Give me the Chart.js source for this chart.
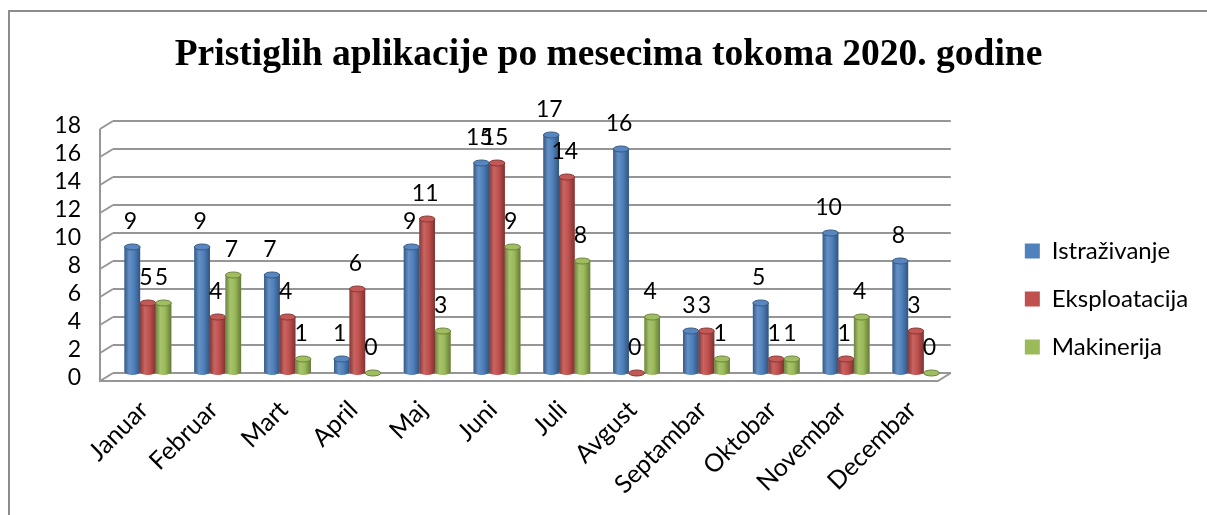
<!DOCTYPE html>
<html>
<head>
<meta charset="utf-8">
<script src="https://cdn.jsdelivr.net/npm/chart.js@4.4.0/dist/chart.umd.min.js"></script>
<style>
  html, body { margin: 0; padding: 0; background: #fff; overflow: hidden; }
  #wrap { position: relative; width: 1207px; height: 515px; overflow: hidden; }
  #frame { position: absolute; left: 8px; top: 10px; width: 1400px; height: 700px; border: 2px solid #8c8c8c; }
  #myChart { position: absolute; left: 0; top: 0; }
</style>
</head>
<body>
<div id="wrap">
  <div id="frame"></div>
  <canvas id="myChart" width="1207" height="515"></canvas>
</div>
<script>
// data
const months = ['Januar', 'Februar', 'Mart', 'April', 'Maj', 'Juni', 'Juli', 'Avgust', 'Septambar', 'Oktobar', 'Novembar', 'Decembar'];
const istrazivanje = [9, 9, 7, 1, 9, 15, 17, 16, 3, 5, 10, 8];
const eksploatacija = [5, 4, 4, 6, 11, 15, 14, 0, 3, 1, 1, 3];
const makinerija = [5, 7, 1, 0, 3, 9, 8, 4, 1, 1, 4, 0];
const seriesNames = ['Istraživanje', 'Eksploatacija', 'Makinerija'];
const yMax = 18;
const yStep = 2;

const barColors = ['#4F81BD', '#C0504D', '#9BBB59'];
const font = 'Lato';

function shade(hex, f) {
  const n = parseInt(hex.slice(1), 16);
  let rgb = [(n >> 16) & 255, (n >> 8) & 255, n & 255];
  rgb = rgb.map(c => f < 0 ? Math.round(c * (1 + f)) : Math.round(c + (255 - c) * f));
  return 'rgb(' + rgb.join(',') + ')';
}

// fake 3d wall / floor edges
const floor3d = {
  id: 'floor3d',
  beforeDatasetsDraw(chart) {
    const {ctx, chartArea: a, scales: {y}} = chart;
    const dx = -13, dy = 8;
    ctx.save();
    ctx.strokeStyle = '#969696';
    ctx.lineWidth = 2;
    y.ticks.forEach(t => {
      const py = y.getPixelForValue(t.value);
      ctx.beginPath();
      ctx.moveTo(a.left, py);
      ctx.lineTo(a.left + dx, py + dy);
      ctx.stroke();
    });
    ctx.beginPath();
    ctx.moveTo(a.left + dx, a.top + dy);
    ctx.lineTo(a.left + dx, a.bottom + dy);
    ctx.lineTo(a.right + dx, a.bottom + dy);
    ctx.lineTo(a.right, a.bottom);
    ctx.stroke();
    ctx.restore();
  }
};

// cylinder look on top of the plain bars
const cylinders = {
  id: 'cylinders',
  afterDatasetsDraw(chart) {
    const ctx = chart.ctx;
    chart.data.datasets.forEach((ds, i) => {
      const meta = chart.getDatasetMeta(i);
      const c = barColors[i];
      meta.data.forEach(bar => {
        const {x, y, base, width} = bar.getProps(['x', 'y', 'base', 'width'], true);
        const l = x - width / 2, r = x + width / 2, ry = 3;
        const g = ctx.createLinearGradient(l, 0, r, 0);
        g.addColorStop(0, shade(c, -0.3));
        g.addColorStop(0.3, shade(c, 0.12));
        g.addColorStop(0.6, c);
        g.addColorStop(1, shade(c, -0.35));
        ctx.save();
        ctx.fillStyle = g;
        ctx.beginPath();
        ctx.moveTo(l, y);
        ctx.lineTo(l, base);
        ctx.ellipse(x, base, width / 2, ry, 0, Math.PI, 0, true);
        ctx.lineTo(r, y);
        ctx.closePath();
        ctx.fill();
        ctx.beginPath();
        ctx.ellipse(x, y, width / 2, ry, 0, 0, Math.PI * 2);
        ctx.fillStyle = shade(c, 0.05);
        ctx.fill();
        ctx.strokeStyle = shade(c, -0.3);
        ctx.lineWidth = 1;
        ctx.stroke();
        ctx.restore();
      });
    });
  }
};

const valueLabels = {
  id: 'valueLabels',
  afterDatasetsDraw(chart) {
    const ctx = chart.ctx;
    ctx.save();
    ctx.font = '23px ' + font;
    ctx.fillStyle = '#000';
    ctx.textAlign = 'center';
    ctx.textBaseline = 'middle';
    chart.data.datasets.forEach((ds, i) => {
      chart.getDatasetMeta(i).data.forEach((bar, j) => {
        ctx.fillText(String(ds.data[j]), bar.x - 2, bar.y - 25);
      });
    });
    ctx.restore();
  }
};

new Chart('myChart', {
  type: 'bar',
  data: {
    labels: months,
    datasets: [
      {label: seriesNames[0], data: istrazivanje, backgroundColor: barColors[0]},
      {label: seriesNames[1], data: eksploatacija, backgroundColor: barColors[1]},
      {label: seriesNames[2], data: makinerija, backgroundColor: barColors[2]}
    ]
  },
  options: {
    responsive: false,
    animation: false,
    layout: {padding: {left: 20, right: 10, top: 0, bottom: 0}},
    datasets: {bar: {categoryPercentage: 0.67, barPercentage: 1, borderWidth: 0}},
    scales: {
      x: {
        grid: {display: false},
        border: {display: false},
        ticks: {
          autoSkip: false, minRotation: 45, maxRotation: 45, padding: 14, labelOffset: -4,
          color: '#000', font: {family: font, size: 25}
        },
        afterFit: s => { s.height = 142; }
      },
      y: {
        min: 0, max: yMax,
        grid: {color: '#969696', lineWidth: 2, drawTicks: false},
        border: {display: false},
        ticks: {stepSize: yStep, autoSkip: false, padding: 32, labelOffset: 5, color: '#000', font: {family: font, size: 23}},
        afterFit: s => { s.width = 93; }
      },
      gap: {
        position: 'right',
        grid: {display: false},
        border: {display: false},
        ticks: {display: false},
        afterFit: s => { s.width = 50; }
      }
    },
    plugins: {
      title: {
        display: true,
        text: 'Pristiglih aplikacije po mesecima tokoma 2020. godine',
        color: '#000',
        font: {family: 'Liberation Serif', size: 37.5, weight: 'bold'},
        padding: {top: 33, bottom: 43}
      },
      legend: {
        position: 'right',
        align: 'start',
        title: {display: true, text: ' ', font: {size: 10}, padding: {top: 203, bottom: 0}},
        labels: {boxWidth: 15, boxHeight: 15, padding: 24, color: '#000', font: {family: font, size: 24}}
      },
      tooltip: {enabled: false}
    }
  },
  plugins: [floor3d, cylinders, valueLabels]
});
</script>
</body>
</html>
